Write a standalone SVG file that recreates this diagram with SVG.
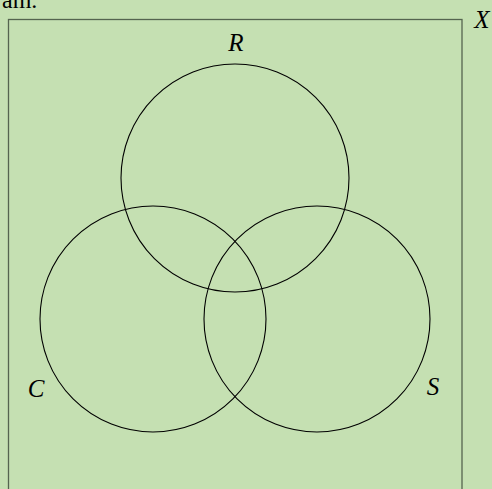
<svg xmlns="http://www.w3.org/2000/svg" width="492" height="489" viewBox="0 0 492 489">
<style>
.lbl{font-family:"Liberation Serif","DejaVu Serif",serif;font-style:italic;font-size:25px;fill:#000;text-anchor:middle}
.set{fill:none;stroke:#000;stroke-width:1.1}
</style>
<rect x="0" y="0" width="492" height="489" fill="#c5e0b2"/>
<text x="2" y="8" font-family="Liberation Serif, serif" font-size="24" fill="#000">am.</text>
<g id="universe">
<rect x="8.5" y="19.5" width="453.5" height="480" fill="none" stroke="#55644f" stroke-width="1.3"/>
<text class="lbl" x="482" y="28">X</text>
</g>
<g id="R">
<circle class="set" cx="235" cy="178" r="114"/>
<text class="lbl" x="236" y="51">R</text>
</g>
<g id="C">
<circle class="set" cx="153" cy="319" r="113"/>
<text class="lbl" x="36" y="397">C</text>
</g>
<g id="S">
<circle class="set" cx="317" cy="319" r="113"/>
<text class="lbl" x="433" y="395">S</text>
</g>
</svg>
